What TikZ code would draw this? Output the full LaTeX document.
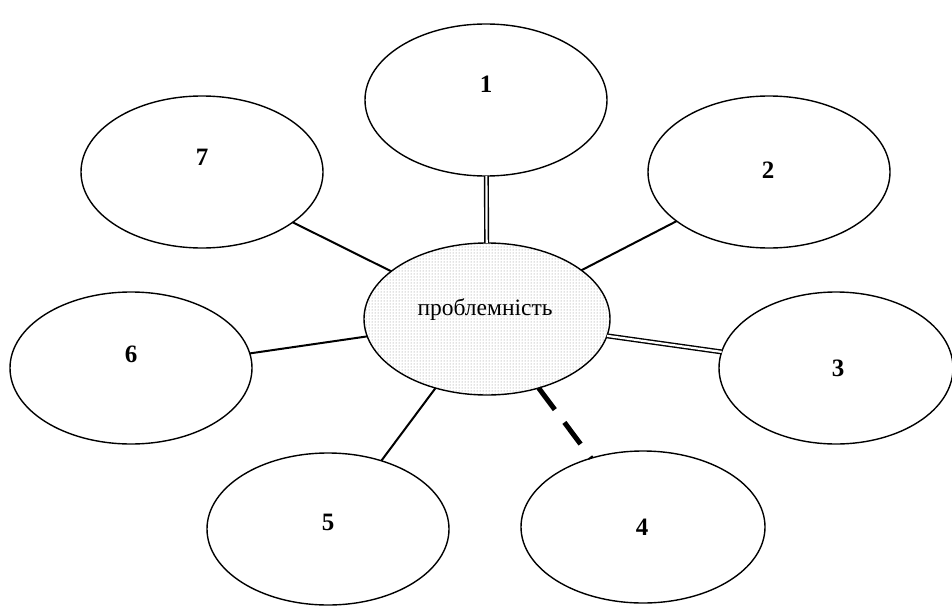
\documentclass[tikz,border=0pt]{standalone}
\usepackage{fontspec}
\setmainfont{Liberation Serif}
\usetikzlibrary{shapes.geometric,patterns}
\begin{document}
\begin{tikzpicture}[x=1pt,y=-1pt,
  petal/.style={ellipse,draw,line width=1.4pt,inner sep=0pt,outer sep=0pt,
    minimum width=242pt,minimum height=152pt},
  num/.style={font=\fontsize{25}{28}\selectfont\bfseries,inner sep=0pt},
  hub/.style={ellipse,draw,line width=1.4pt,inner sep=0pt,outer sep=0pt,
    minimum width=246pt,minimum height=152pt,
    pattern=dots,pattern color=gray},
  link/.style={line width=2pt},
  twin/.style={double,line width=1.4pt,double distance=2.2pt},
  dashlink/.style={line width=5pt,dash pattern=on 27pt off 16pt}]
\useasboundingbox (0,0) rectangle (952,607);
% centre
\node[hub] (c) at (487,319) {};
\node[font=\fontsize{23.5}{26}\selectfont] (ct) at (485,310) {проблемність};
% surrounding ellipses
\node[petal] (p1) at (486,100) {};
\node[petal] (p2) at (769,172) {};
\node[petal,minimum width=234pt] (p3) at (836,368) {};
\node[petal,minimum width=244pt] (p4) at (643,527) {};
\node[petal] (p5) at (328,529) {};
\node[petal] (p6) at (131,368) {};
\node[petal] (p7) at (202,172) {};
% numbers
\node[num] (n1) at (486,84) {1};
\node[num] (n2) at (768,170) {2};
\node[num] (n3) at (838,368) {3};
\node[num] (n4) at (642,527) {4};
\node[num] (n5) at (328,522) {5};
\node[num] (n6) at (131,354) {6};
\node[num] (n7) at (202,157) {7};
% connectors
\draw[twin] (p1) -- (c);
\draw[link] (p2.208.5) -- (c);
\draw[twin] (c) -- (p3.172.1);
\draw[dashlink] (c) -- (p4.127.5);
\draw[link] (p5.52.9) -- (c);
\draw[link] (p6.7.1) -- (c);
\draw[link] (p7.331.8) -- (c);
\end{tikzpicture}
\end{document}
